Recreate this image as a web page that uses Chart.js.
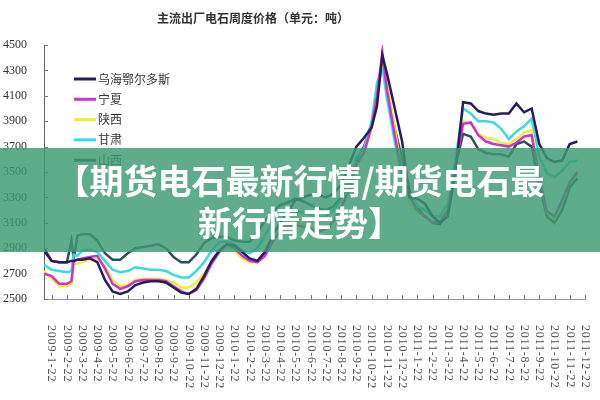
<!DOCTYPE html>
<html>
<head>
<meta charset="utf-8">
<script src="https://cdn.jsdelivr.net/npm/chart.js@4.4.0/dist/chart.umd.min.js"></script>
<style>
body { margin: 0; background: #fff; }
#wrap { position: relative; width: 600px; height: 400px; }
#banner {
    position: absolute; left: 0; top: 148px; width: 600px; height: 104px;
    box-sizing: border-box; padding-top: 11px;
    background: rgba(60, 154, 115, 0.82); color: #fff;
    font-family: "Noto Sans CJK SC"; font-weight: bold; font-size: 34px;
    line-height: 42px; text-align: center;
}
</style>
</head>
<body>
<div id="wrap">
    <canvas id="myChart"></canvas>
    <div id="banner">【期货电石最新行情/期货电石最<br>新行情走势】</div>
</div>
<script>
var chartTitle = '主流出厂电石周度价格（单元：吨）';

var monthLabels = [
    '2009-1-22', '2009-2-22', '2009-3-22', '2009-4-22', '2009-5-22', '2009-6-22',
    '2009-7-22', '2009-8-22', '2009-9-22', '2009-10-22', '2009-11-22', '2009-12-22',
    '2010-1-22', '2010-2-22', '2010-3-22', '2010-4-22', '2010-5-22', '2010-6-22',
    '2010-7-22', '2010-8-22', '2010-9-22', '2010-10-22', '2010-11-22', '2010-12-22',
    '2011-1-22', '2011-2-22', '2011-3-22', '2011-4-22', '2011-5-22', '2011-6-22',
    '2011-7-22', '2011-8-22', '2011-9-22', '2011-10-22', '2011-11-22', '2011-12-22'
];

// sample positions in months after 2009-1-22
var samplePos = [
    -0.5, 0, 0.5, 1, 1.3, 1.45, 1.7, 2, 2.5, 3,
    3.5, 4, 4.5, 5, 5.5, 6, 6.5, 7, 7.5, 8,
    8.5, 9, 9.5, 10, 10.5, 11, 11.5, 12, 12.5, 13,
    13.5, 14, 14.5, 15, 15.5, 16, 16.5, 17, 17.5, 18,
    18.5, 19, 19.5, 20, 20.5, 21, 21.35, 21.7, 22, 22.5,
    23, 23.5, 24, 24.5, 25, 25.5, 26, 26.5, 27, 27.5,
    28, 28.5, 29, 29.5, 30, 30.5, 31, 31.5, 32, 32.5,
    33, 33.5, 34, 34.5
];

var wuhai = [
    2880, 2800, 2790, 2790, 2800, 2800, 2810, 2810, 2820, 2790,
    2650, 2560, 2540, 2560, 2610, 2630, 2640, 2640, 2630, 2590,
    2550, 2540, 2580, 2680, 2800, 2880, 2930, 2920, 2870, 2820,
    2800, 2870, 3000, 3100, 3180, 3280, 3300, 3320, 3320, 3300,
    3330, 3400, 3550, 3700, 3770, 3850, 4020, 4420, 4280, 4010,
    3740, 3300, 3290, 3250, 3150, 3100, 3150, 3500, 4050, 4040,
    3980, 3960, 3950, 3960, 3960, 4040, 3970, 4000, 3720, 3610,
    3580, 3590, 3720, 3740
];
var ningxia = [
    2700, 2680, 2620, 2620, 2640, 2800, 2810, 2820, 2830, 2840,
    2740, 2620, 2580, 2600, 2640, 2650, 2650, 2650, 2640, 2600,
    2560, 2540, 2570, 2660, 2780, 2870, 2930, 2900, 2840, 2800,
    2790, 2840, 2950, 3040, 3080, 3080, 3070, 3050, 3030, 3050,
    3110, 3220, 3350, 3560, 3650, 3860, 4100, 4440, 4150, 3800,
    3480, 3300, 3200, 3150, 3100, 3110, 3200, 3550, 3880, 3890,
    3790, 3740, 3720, 3710, 3700, 3730, 3780, 3790, 3450, 3190,
    3150, 3280, 3420, 3500
];
var shaanxi = [
    2720, 2660, 2600, 2600, 2620, 2780, 2780, 2790, 2810, 2820,
    2760, 2650, 2600, 2610, 2650, 2660, 2660, 2660, 2650, 2630,
    2590, 2590, 2630, 2700, 2790, 2870, 2910, 2880, 2820, 2790,
    2790, 2850, 2960, 3050, 3090, 3100, 3090, 3060, 3040, 3060,
    3120, 3230, 3350, 3550, 3650, 3850, 4100, 4380, 4200, 3850,
    3500, 3250, 3180, 3150, 3110, 3120, 3220, 3560, 3900, 3880,
    3800, 3770, 3760, 3730, 3720, 3760, 3810, 3830, 3480, 3180,
    3130, 3260, 3420, 3480
];
var gansu = [
    2770, 2730, 2720, 2710, 2720, 2850, 2840, 2880, 2890, 2870,
    2800, 2730, 2710, 2720, 2750, 2740, 2730, 2730, 2720, 2690,
    2670, 2670, 2720, 2790, 2880, 2950, 2950, 2930, 2880, 2860,
    2900, 3000, 3100, 3170, 3180, 3190, 3180, 3160, 3140, 3150,
    3200, 3280, 3400, 3620, 3680, 3900, 4200, 4330, 4080, 3750,
    3450, 3330, 3230, 3200, 3150, 3150, 3250, 3600, 4000, 3960,
    3900, 3900, 3890, 3840, 3760, 3820, 3860, 3920, 3620, 3490,
    3460, 3510, 3580, 3590
];
var shanxi = [
    2900, 2800, 2790, 2790, 2960, 2820, 3000, 3010, 3010, 2960,
    2860, 2810, 2810, 2860, 2900, 2910, 2920, 2930, 2900, 2830,
    2790, 2790, 2850, 2940, 2980, 2990, 2990, 2960, 2950, 2950,
    3020, 3120, 3180, 3240, 3260, 3290, 3270, 3240, 3210, 3200,
    3230, 3300, 3420, 3600, 3700, 3880, 4100, 4380, 4150, 3850,
    3600, 3350, 3220, 3150, 3100, 3090, 3200, 3550, 3800, 3780,
    3680, 3650, 3640, 3640, 3620, 3720, 3740, 3700, 3400, 3150,
    3100, 3200, 3380, 3450
];

var seriesNames = ['乌海鄂尔多斯', '宁夏', '陕西', '甘肃', '山西'];
var seriesValues = [wuhai, ningxia, shaanxi, gansu, shanxi];
var seriesColors = ['#2a1a5e', '#cc33cc', '#f2ec3a', '#3adcdc', '#2f4f5c'];

function toPoints(values) {
    return values.map(function (v, i) { return { x: samplePos[i], y: v }; });
}

var datasets = seriesNames.map(function (name, i) {
    return {
        label: name,
        data: toPoints(seriesValues[i]),
        borderColor: seriesColors[i],
        backgroundColor: seriesColors[i],
        borderWidth: 2.5,
        pointRadius: 0,
        tension: 0,
        fill: false
    };
});

// title, legend, rotated month labels, inward tick marks
var overlay = {
    id: 'overlay',
    afterDraw: function (chart) {
        var ctx = chart.ctx;
        var xs = chart.scales.x, ys = chart.scales.y;
        ctx.save();

        ctx.fillStyle = '#333';
        ctx.font = 'bold 12px "Noto Sans CJK SC"';
        ctx.textAlign = 'center';
        ctx.textBaseline = 'middle';
        ctx.fillText(chartTitle, 253, 18);

        ctx.strokeStyle = '#777';
        ctx.lineWidth = 1;
        ctx.beginPath();
        ys.ticks.forEach(function (t) {
            var y = Math.round(ys.getPixelForValue(t.value)) + 0.5;
            ctx.moveTo(xs.left, y);
            ctx.lineTo(xs.left + 4, y);
        });
        monthLabels.forEach(function (l, i) {
            var x = Math.round(xs.getPixelForValue(i)) + 0.5;
            ctx.moveTo(x, ys.bottom);
            ctx.lineTo(x, ys.bottom - 4);
        });
        ctx.stroke();

        ctx.fillStyle = '#555';
        ctx.font = '12px "Liberation Serif"';
        ctx.letterSpacing = '0.8px';
        ctx.textAlign = 'left';
        monthLabels.forEach(function (l, i) {
            ctx.save();
            ctx.translate(xs.getPixelForValue(i), 325);
            ctx.rotate(Math.PI / 2);
            ctx.fillText(l, 0, 0);
            ctx.restore();
        });
        ctx.letterSpacing = '0px';

        chart.data.datasets.forEach(function (ds, i) {
            var y = 79 + i * 20.3;
            ctx.strokeStyle = ds.borderColor;
            ctx.lineWidth = 3;
            ctx.beginPath();
            ctx.moveTo(74, y);
            ctx.lineTo(96, y);
            ctx.stroke();
            ctx.fillStyle = '#333';
            ctx.font = '12px "Noto Sans CJK SC"';
            ctx.fillText(ds.label, 98, y);
        });

        ctx.restore();
    }
};

var ctx = document.getElementById('myChart').getContext('2d');
var myChart = new Chart(ctx, {
    type: 'line',
    data: { datasets: datasets },
    options: {
        responsive: true,
        maintainAspectRatio: false,
        animation: false,
        layout: { padding: { top: 45, right: 15, left: 0, bottom: 0 } },
        plugins: {
            legend: { display: false },
            title: { display: false },
            tooltip: { enabled: false }
        },
        scales: {
            x: {
                type: 'linear',
                min: -0.5,
                max: 35,
                grid: { display: false },
                border: { color: '#999', width: 1 },
                ticks: { display: false, stepSize: 1 },
                afterFit: function (scale) { scale.height = 101; }
            },
            y: {
                min: 2500,
                max: 4500,
                grid: { display: false },
                border: { color: '#666', width: 1 },
                ticks: {
                    stepSize: 200,
                    color: '#333',
                    padding: 9,
                    font: { family: 'Liberation Serif', size: 12 },
                    callback: function (v) { return String(v); }
                },
                afterFit: function (scale) { scale.width = 44; }
            }
        }
    },
    plugins: [overlay]
});
</script>
</body>
</html>
